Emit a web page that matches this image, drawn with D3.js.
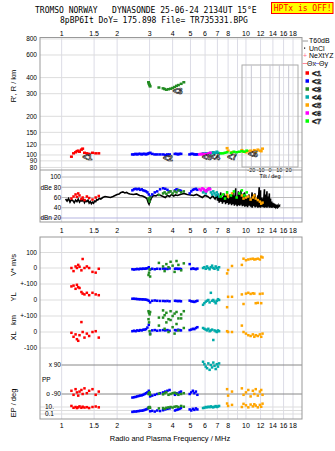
<!DOCTYPE html>
<html><head><meta charset="utf-8">
<script src="https://cdn.jsdelivr.net/npm/d3@7"></script>
<style>
html,body{margin:0;padding:0;background:#fff;}
svg{display:block;}
text{font-family:"Liberation Sans",Arial,sans-serif;fill:#000;}
.mono{font-family:"DejaVu Sans Mono",monospace;white-space:pre;}
</style></head><body><svg id="c" width="335" height="451"></svg>
<script>
// ---------- texts ----------
const titleLine1 = "TROMSO NORWAY   DYNASONDE 25-06-24 2134UT 15°E";
const titleLine2 = "8pBP6It DoY= 175.898 File= TR735331.BPG";
const warningText = "HPTx is OFF!";
const xTitle = "Radio and Plasma Frequency / MHz";

// ---------- ticks ----------
const freqTicks = [1,1.5,2,3,4,5,6,7,8,10,12,14,16,18];
const freqGrid = [1,1.5,2,3,4,5,6,7,8,9,10,12,14,16,18];
const rangeTicks = [80,90,100,120,150,200,300,400,600,800];
const ampTicks = [20,40,60,80,100];
const ampTickLabels = ["dBn 20","40","60","dBe 80","100"];
const tiltTicks = [-20,-10,0,10,20];

// ---------- series ----------
const seriesNames = ["<1","<2","<3","<4","<5","<6","<7"];
const seriesColors = ["#ff0000","#0000ff","#228b22","#00aaaa","#ffa500","#ff00ff","#00ff00"];

const s1F=[1.13,1.16,1.19,1.21,1.23,1.25,1.28,1.30,1.33,1.37,1.41,1.47,1.53,1.59];
const s1R=[97,103,105,107,108,106,110,112,104,103,102,104,103,103];
const s1A=[58,62,66,61,68,64,57,60,55,62,59,56,60,63];
const s1V=[0,-20,10,0,20,8,-15,58,0,10,0,-25,-30,-5];
const s1YL=[85,90,70,95,80,75,50,40,35,45,30,45,35,30];
const s1XL=[-5,-30,-15,-45,-55,-20,62,0,-35,-10,-25,0,5,-35];
const s1PP=[-70,-95,-60,-80,-100,-75,-65,-90,-55,-85,-70,-60,-95,-75];
const s1EP=[20,6,10,5,8,15,6,12,7,9,5,10,14,8];

const s2F=[2.42,2.47,2.52,2.57,2.62,2.67,2.72,2.77,2.82,2.87,2.92,2.97,3.02,3.1,3.2,3.3,3.42,3.55,3.65,3.75,3.85,4.12,4.2,4.28,4.36,4.44,4.95,5.05,5.15,5.25,5.35,5.45];
const s2R=[101,101,102,101,102,102,101,102,102,101,102,103,104,102,101,101,101,101,100,101,101,102,102,101,102,102,101,102,102,101,101,101];
const s2A=[74,76,77,76,77,75,76,74,73,72,70,66,62,66,70,72,76,78,77,75,72,74,76,75,74,73,68,72,75,76,77,75];
const s2V=[-8,-10,-8,-6,-8,-5,-6,-4,-5,-3,-2,5,-10,-5,-8,-5,-6,-4,-5,-6,-3,-5,-4,-6,-5,-7,25,-6,-3,-5,-8,-4];
const s2YL=[8,8,7,6,5,5,4,4,3,2,0,-5,-15,-5,-3,-5,-6,-6,-7,-6,-8,-5,-6,-7,-6,-8,-4,-8,-10,-12,-8,-5];
const s2XL=[5,8,5,10,8,12,10,14,15,18,28,45,-10,10,12,8,10,12,10,12,8,12,10,14,12,10,12,15,20,18,25,30];
const s2PP=[-112,-110,-108,-105,-102,-100,-98,-95,-90,-85,-80,-70,-105,-100,-95,-90,-85,-80,-75,-70,-65,-95,-85,-90,-80,-75,-90,-80,-70,-85,-75,-95];
const s2EP=[0.4,0.5,0.5,0.6,0.7,0.8,0.9,1,1.5,2,3,8,0.6,0.8,0.5,1,0.7,1.2,2,3,4,1,1.5,2,3,5,2,1,3,1.5,4,2];

const s3F=[2.96,2.98,3.0,3.02,3.37,3.55,3.62,3.7,3.8,3.9,4.0,4.1,4.2,4.3,4.45,4.6];
const s3R=[368,358,350,342,335,330,326,322,325,328,332,338,345,350,358,368];
const s3A=[58,55,52,60,65,68,70,67,70,72,68,72,70,74,70,72];
const s3V=[-45,-30,-10,-55,33,10,-20,25,5,40,15,-25,45,20,-15,30];
const s3YL=[-70,-80,-90,-75,-110,-65,-95,-80,-120,-70,-100,-85,-75,-115,-90,-70];
const s3XL=[80,60,5,-15,40,90,20,60,0,75,30,-10,50,10,85,25];
const s3PP=[-90,-85,-80,-95,-88,-92,-85,-80,-95,-90,-85,-82,-88,-95,-90,-85];
const s3EP=[5,8,10,6,4,5,3,6,8,10,7,12,15,10,20,12];

const s4F=[5.85,5.95,6.05,6.15,6.25,6.35,6.45,6.55,6.65,6.75,6.85,6.95,7.05,7.15];
const s4R=[103,102,103,102,103,102,104,103,105,103,104,106,104,103];
const s4A=[70,72,68,74,76,78,70,66,72,68,64,70,66,62];
const s4V=[0,5,-5,10,0,-8,5,15,0,-5,10,0,-10,5];
const s4YL=[-30,-20,-10,-5,0,-15,45,-5,0,-10,-20,-5,5,0];
const s4XL=[25,20,15,10,20,5,10,15,-50,10,5,0,10,5];
const s4PP=[110,95,80,70,100,60,90,75,105,85,65,95,80,100];
const s4EP=[5,6,10,8,12,9,15,10,8,12,18,10,14,20];

const s5F=[7.9,8.0,8.4,9.5,9.7,10.0,10.3,10.6,10.9,11.1,11.3,11.6,11.9,12.1,12.3];
const s5R=[113,108,105,109,106,105,107,108,106,109,106,110,108,107,112];
const s5A=[66,62,68,64,58,60,62,56,60,64,58,55,52,48,50];
const s5V=[-35,-13,13,20,60,50,55,58,60,55,57,60,55,73,68];
const s5YL=[-45,20,20,35,-25,40,45,38,42,40,-20,-18,38,-20,40];
const s5XL=[5,0,0,40,0,-10,-20,-25,-15,-30,-20,-25,-15,-30,-10];
const s5PP=[-60,-100,-75,-55,-95,-80,-65,-105,-70,-90,-60,-100,-75,-65,-95];
const s5EP=[100,20,40,10,80,30,8,50,15,60,25,8,40,12,90];

const s6F=[5.6,5.7,5.8,5.9,6.0,6.1,6.2,6.3,6.4];
const s6R=[101,102,101,102,101,101,102,103,104];
const s6A=[76,74,78,76,74,72,76,78,76];

const s7F=[7.3,7.5,7.7,7.9,8.3,8.6,8.9,9.2,9.5,9.8,10.1];
const s7R=[103,103,104,105,104,106,105,106,107,106,108];
const s7A=[62,66,58,70,64,72,60,68,74,64,70];

// layer tags in the range panel
const tagF=[1.38,3.77,4.26,6.8,10.9,6.13,8.4];
const tagR=[97,95,314,96,102,96,96];

// black amplitude trace
const noiseF=[1.05,1.07,1.09,1.11,1.13,1.15,1.17,1.19,1.21,1.23,1.25,1.27,1.29,1.31,1.33,1.35,1.37,1.39,1.41,1.43,1.45,1.47,1.49,1.51,1.53,1.55,1.57,1.6,1.63,1.67,1.72,1.78,1.84,1.9,1.95,2.0,2.05,2.1,2.15,2.2,2.25,2.3,2.35,2.45,2.55,2.65,2.75,2.85,2.9,2.95,2.98,3.02,3.08,3.15,3.25,3.35,3.45,3.55,3.65,3.75,3.85,3.95,4.05,4.15,4.25,4.4,4.6,4.8,5.0,5.2,5.4,5.6,5.8,6.0,6.2,6.4,6.6,6.8];
const noiseA=[57,53,58,51,56,54,50,55,52,57,51,55,53,56,50,54,52,55,49,52,48,51,49,53,52,56,55,58,57,60,62,61,60,62,64,66,67,70,71,69,70,68,67,66,67,64,63,60,58,50,47,53,60,64,63,66,64,62,60,64,62,66,63,65,64,66,68,66,65,64,66,63,60,64,62,58,63,57];
const spikeF=[7.0,7.15,7.3,7.45,7.6,7.75,7.9,8.05,8.2,8.35,8.5,8.65,8.8,8.95,9.1,9.25,9.4,9.55,9.7,9.85,10.0,10.2,10.4,10.6,10.8,11.0,11.2,11.4,11.6,11.8,12.0,12.2,12.4,12.6,12.8,13.0,13.2,13.4,13.6,13.8,14.0,14.3,14.6,14.9,15.2];
const spikeLo=[54,50,52,48,51,47,50,46,48,45,47,44,46,43,45,44,46,43,44,42,43,41,44,42,40,43,41,42,40,41,40,42,41,40,41,40,42,40,41,40,41,40,41,41,42];
const spikeHi=[66,62,70,60,68,64,72,58,66,62,70,64,78,60,72,66,74,62,68,70,64,60,66,58,70,62,68,56,64,80,74,60,58,76,66,72,62,68,58,52,50,48,46,45,44];

// ---------- build ----------
const series=[
 {f:s1F,R:s1R,A:s1A,V:s1V,YL:s1YL,XL:s1XL,PP:s1PP,EP:s1EP},
 {f:s2F,R:s2R,A:s2A,V:s2V,YL:s2YL,XL:s2XL,PP:s2PP,EP:s2EP},
 {f:s3F,R:s3R,A:s3A,V:s3V,YL:s3YL,XL:s3XL,PP:s3PP,EP:s3EP},
 {f:s4F,R:s4R,A:s4A,V:s4V,YL:s4YL,XL:s4XL,PP:s4PP,EP:s4EP},
 {f:s5F,R:s5R,A:s5A,V:s5V,YL:s5YL,XL:s5XL,PP:s5PP,EP:s5EP},
 {f:s6F,R:s6R,A:s6A},
 {f:s7F,R:s7R,A:s7A}
].map((s,i)=>Object.assign(s,{name:seriesNames[i],color:seriesColors[i]}));

const svg=d3.select("#c");
const L=40,Rt=302;
const x=d3.scaleLog().domain([0.763,20.14]).range([L,Rt]);
const yR=d3.scaleLog().domain([76.4,821]).range([170,37.5]);
const yA=d3.scaleLinear().domain([12.2,113.7]).range([222,170]);
const yV=d3.scaleLinear().domain([0,100]).range([268,252.5]);
const yYL=d3.scaleLinear().domain([0,100]).range([300,284]);
const yXL=d3.scaleLinear().domain([0,100]).range([332,316]);
const yPP=d3.scaleLinear().domain([90,-90]).range([365,394]);
const yEP=d3.scaleLog().domain([10,0.1]).range([407,414]);
const xT=d3.scaleLinear().domain([-30,30]).range([242,298]);

const gridC="#dcdce6", frameC="#999";

// titles
svg.append("text").attr("class","mono").attr("x",35).attr("y",13).attr("font-size",8).text(titleLine1);
svg.append("text").attr("class","mono").attr("x",60).attr("y",22.5).attr("font-size",8).text(titleLine2);
svg.append("rect").attr("x",271.5).attr("y",2.5).attr("width",61.5).attr("height",11).attr("fill","#ffff00").attr("stroke","#ff0000");
svg.append("text").attr("class","mono").attr("x",273.8).attr("y",11.3).attr("font-size",8).style("fill","#ff0000").text(warningText);

// grids
const grid=svg.append("g");
freqGrid.forEach(f=>{
  grid.append("line").attr("x1",x(f)).attr("x2",x(f)).attr("y1",37.5).attr("y2",222).attr("stroke",gridC);
  grid.append("line").attr("x1",x(f)).attr("x2",x(f)).attr("y1",237).attr("y2",419).attr("stroke",gridC);
});
rangeTicks.forEach(t=>grid.append("line").attr("x1",L).attr("x2",Rt).attr("y1",yR(t)).attr("y2",yR(t)).attr("stroke","#dddddd"));
ampTicks.forEach(t=>grid.append("line").attr("x1",t===20?L:x(1)).attr("x2",Rt).attr("y1",yA(t)).attr("y2",yA(t)).attr("stroke",t===20?"#b4b4e0":"#bbbbbb"));
[[yV,0],[yV,100],[yYL,0],[yYL,100],[yXL,100],[yXL,0],[yXL,-100]].forEach(([s,v])=>grid.append("line").attr("x1",L).attr("x2",Rt).attr("y1",s(v)).attr("y2",s(v)).attr("stroke","#dddddd"));
[10,1,0.1].forEach(v=>grid.append("line").attr("x1",L).attr("x2",Rt).attr("y1",yEP(v)).attr("y2",yEP(v)).attr("stroke","#dddddd"));
[90,-90].forEach(v=>grid.append("line").attr("x1",x(1)).attr("x2",Rt).attr("y1",yPP(v)).attr("y2",yPP(v)).attr("stroke","#888"));

// tilt inset
const ti=svg.append("g");
ti.append("rect").attr("x",242).attr("y",65).attr("width",56).attr("height",102).attr("fill","none").attr("stroke","#aaa");
tiltTicks.forEach(t=>{
  ti.append("line").attr("x1",xT(t)).attr("x2",xT(t)).attr("y1",65).attr("y2",167).attr("stroke","#c8c8d4");
  ti.append("text").attr("x",xT(t)).attr("y",172).attr("text-anchor","middle").attr("font-size",5.5).text(t);
});
ti.append("text").attr("x",270).attr("y",178).attr("text-anchor","middle").attr("font-size",5.5).text("Tilt / deg");

// frames
const fr=svg.append("g").attr("fill","none").attr("stroke",frameC);
fr.append("rect").attr("x",L).attr("y",37.5).attr("width",Rt-L).attr("height",222-37.5);
fr.append("line").attr("x1",L).attr("x2",Rt).attr("y1",170).attr("y2",170);
fr.append("rect").attr("x",L).attr("y",237).attr("width",Rt-L).attr("height",419-237);

// frequency tick labels
[33.5,230.5,425.5].forEach(y=>{
  freqTicks.forEach(f=>svg.append("text").attr("x",x(f)).attr("y",y).attr("dy","0.35em").attr("text-anchor","middle").attr("font-size",7).text(f));
});
svg.append("text").attr("x",170).attr("y",441).attr("text-anchor","middle").attr("font-size",7.5).text(xTitle);

// y tick labels
rangeTicks.forEach(t=>svg.append("text").attr("x",37).attr("y",yR(t)).attr("dy","0.35em").attr("text-anchor","end").attr("font-size",6.5).text(t));
ampTicks.forEach((t,i)=>svg.append("text").attr("x",61).attr("y",yA(t)).attr("dy","0.35em").attr("text-anchor","end").attr("font-size",6.5).text(ampTickLabels[i]));
[[yV,100,"100"],[yV,0,"0"],[yYL,100,"+-100"],[yYL,0,"0"],[yXL,100,"+-100"],[yXL,0,"0"],[yXL,-100,"-100"]].forEach(([s,v,l])=>
  svg.append("text").attr("x",37).attr("y",s(v)).attr("dy","0.35em").attr("text-anchor","end").attr("font-size",6.5).text(l));
svg.append("text").attr("x",61).attr("y",yPP(90)).attr("dy","0.35em").attr("text-anchor","end").attr("font-size",6.5).text("x 90");
svg.append("text").attr("x",61).attr("y",yPP(-90)).attr("dy","0.35em").attr("text-anchor","end").attr("font-size",6.5).text("o -90");
svg.append("text").attr("x",42).attr("y",yPP(0)).attr("dy","0.35em").attr("font-size",6.5).text("PP");
svg.append("text").attr("x",54).attr("y",yEP(10)).attr("dy","0.35em").attr("text-anchor","end").attr("font-size",6.5).text("10.");
svg.append("text").attr("x",54).attr("y",yEP(0.1)).attr("dy","0.35em").attr("text-anchor","end").attr("font-size",6.5).text("0.1");

// axis titles
[["R', R / km",86],["V* m/s",265],["YL",297],["km",320],["XL",336],["EP / deg",403]].forEach(([t,y])=>
  svg.append("text").attr("transform",`translate(16,${y}) rotate(-90)`).attr("text-anchor","middle").attr("font-size",7.5).text(t));

// amplitude trace
const tr=noiseF.map((f,i)=>[f,noiseA[i]]);
spikeF.forEach((f,i)=>{tr.push([f,spikeHi[i]]);tr.push([f,spikeLo[i]]);});
svg.append("path").attr("d",d3.line().x(d=>x(d[0])).y(d=>yA(d[1]))(tr)).attr("fill","none").attr("stroke","#000").attr("stroke-width",1.6);

// points
function drawPts(key,ys,w,h){
  const g=svg.append("g");
  series.forEach(s=>{
    if(!s[key])return;
    g.selectAll(null).data(s.f.map((f,i)=>[f,s[key][i]])).join("rect")
     .attr("x",d=>x(d[0])-w/2).attr("y",d=>ys(d[1])-h/2).attr("width",w).attr("height",h).attr("fill",s.color);
  });
}
drawPts("R",yR,3,2.5);
drawPts("A",yA,2.5,2.5);
drawPts("V",yV,2.5,2.5);
drawPts("YL",yYL,2.5,2.5);
drawPts("XL",yXL,2.5,2.5);
drawPts("PP",yPP,2.5,2.5);
drawPts("EP",yEP,2.5,2.5);

// tags
tagF.forEach((f,i)=>svg.append("text").attr("x",x(f)).attr("y",yR(tagR[i])).attr("dy","0.35em").attr("text-anchor","middle")
  .attr("font-size",8.5).attr("font-weight","bold").style("fill","#fff").attr("stroke","#000").attr("stroke-width",0.6).text(seriesNames[i]));

// legend
const lg=svg.append("g").attr("font-size",7);
lg.append("line").attr("x1",302.5).attr("x2",308).attr("y1",41).attr("y2",41).attr("stroke","#999");
lg.append("text").attr("x",309).attr("y",41).attr("dy","0.35em").text("T60dB");
lg.append("rect").attr("x",304).attr("y",47.5).attr("width",1.2).attr("height",1.2).attr("fill","#000");
lg.append("text").attr("x",309).attr("y",48.5).attr("dy","0.35em").text("UnCl");
lg.append("text").attr("x",305).attr("y",56).attr("dy","0.35em").attr("text-anchor","middle").style("fill","#ff6688").text("+");
lg.append("text").attr("x",309).attr("y",56).attr("dy","0.35em").text("NeXtYZ");
lg.append("line").attr("x1",302.5).attr("x2",307).attr("y1",63.5).attr("y2",63.5).attr("stroke","#ff8899");
lg.append("text").attr("x",307).attr("y",63.5).attr("dy","0.35em").text("Θx");
lg.append("line").attr("x1",314).attr("x2",319).attr("y1",63.5).attr("y2",63.5).attr("stroke","#8888ee");
lg.append("text").attr("x",319).attr("y",63.5).attr("dy","0.35em").text("Θy");
seriesNames.forEach((n,i)=>{
  const y=73+i*8;
  lg.append("rect").attr("x",305.5).attr("y",y-1.75).attr("width",3.5).attr("height",3.5).attr("fill",seriesColors[i]);
  lg.append("text").attr("x",312).attr("y",y).attr("dy","0.35em").attr("font-size",8).attr("font-weight","bold")
    .style("fill","#fff").attr("stroke","#000").attr("stroke-width",0.6).text(n);
});
</script></body></html>
